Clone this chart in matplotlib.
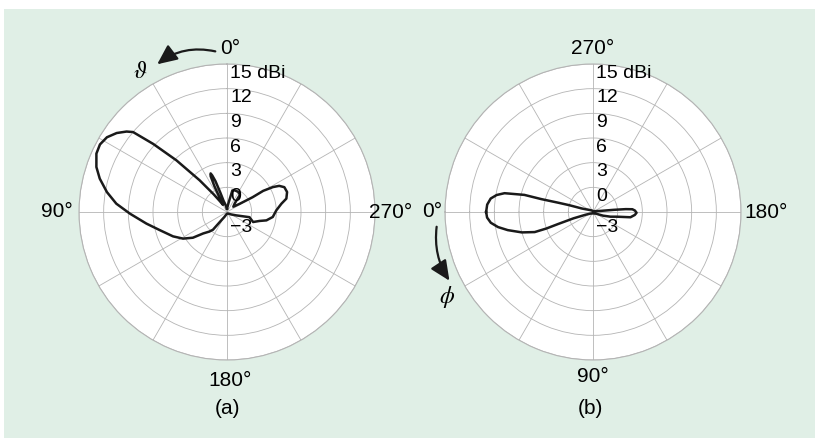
import numpy as np
import matplotlib.pyplot as plt
import matplotlib.transforms as mtransforms
from matplotlib.patches import Rectangle, FancyArrowPatch

plt.rcParams['font.family'] = ['Liberation Sans', 'DejaVu Sans']
plt.rcParams['mathtext.fontset'] = 'stix'

# (a) elevation cut, theta in deg, gain in dBi
theta_a = [0, 8, 13, 17, 19, 20.5, 22, 23, 24.5, 26, 27.5, 29, 31, 34, 37, 40.8, 44.4, 47.3,
           49.6, 51.3, 54.4, 58.1, 62, 65.9, 71, 75.3, 80.6, 85.7, 91, 98.2, 105.2, 114.3,
           121.2, 127, 132, 138, 141.6, 145.8, 152, 165, 185, 205, 225, 240, 250, 257, 249,
           254.6, 258, 263.8, 271.9, 278.7, 282.7, 288.4, 293.4, 296.6, 298.5, 300.3, 300,
           303, 310, 318, 323, 330, 340, 346, 350, 355, 360]
gain_a = [-2.6, -2.4, -2.0, -1.6, -0.5, 1.0, 1.8, 2.1, 1.8, 0.5, -1.2, -2.0, -1.8, -1.3,
          -0.3, 2.1, 5.8, 9.2, 12.0, 12.65, 13.5, 14.2, 14.5, 14.4, 13.8, 13.0, 11.8, 10.5,
          8.8, 6.9, 5.45, 4.2, 3.25, 2.2, 0.9, 0.2, -0.25, -1.8, -2.3, -2.7, -2.8, -2.8,
          -2.7, -2.4, -1.8, -0.2, 0.4, 1.1, 1.9, 2.6, 3.0, 3.7, 4.4, 4.7, 4.6, 4.1, 3.35,
          2.1, 0.6, -1.2, -2.0, -1.6, -0.4, -0.2, -0.2, -0.3, -1.8, -2.4, -2.6]

# (b) azimuth cut, phi in deg, gain in dBi
phi_b = [0, 3, 6, 9, 12, 16, 19, 19.5, 19, 18, 20, 30, 60, 90, 120, 150, 160, 165, 169,
         172, 176, 179, 182, 184, 185, 186, 188, 200, 240, 270, 300, 330, 340, 342.5, 344,
         345, 346, 346, 348, 350, 352.5, 356, 360]
gain_b = [10.0, 9.9, 9.5, 8.7, 7.6, 6.0, 4.5, 3.0, 1.5, -0.5, -2.0, -2.6, -2.8, -2.9, -2.8,
          -2.6, -1.7, -0.8, 0.0, 1.6, 2.1, 2.3, 2.1, 1.8, 1.0, -0.5, -2.0, -2.7, -2.9, -2.9,
          -2.8, -2.5, -2.0, -1.6, 0.0, 1.3, 3.5, 5.6, 8.0, 8.9, 9.55, 9.9, 10.0]

ring_vals = [0, 3, 6, 9, 12, 15]
ring_labels = ['0', '3', '6', '9', '12', '15 dBi']

W, H = 815, 438
fig = plt.figure(figsize=(8.15, 4.38), dpi=100)
fig.patch.set_facecolor('white')
fig.add_artist(Rectangle((4 / W, 0), 1 - 4 / W, 1 - 9 / H, transform=fig.transFigure,
                         facecolor='#e0efe6', edgecolor='none', zorder=-10))

R = 148
def polar_ax(cx, cy):
    ax = fig.add_axes([(cx - R) / W, (H - cy - R) / H, 2 * R / W, 2 * R / H],
                      projection='polar')
    ax.set_facecolor('white')
    ax.set_ylim(-3, 15)
    ax.set_yticks(ring_vals)
    ax.set_yticklabels([])
    ax.set_xticks(np.deg2rad(np.arange(0, 360, 30)))
    ax.set_xticklabels([])
    ax.grid(True, color='#b4b4b4', lw=0.6)
    ax.spines['polar'].set_color('#b4b4b4')
    ax.spines['polar'].set_linewidth(0.8)
    ax.tick_params(length=0)
    return ax

def off(ax, dx, dy):
    return mtransforms.offset_copy(ax.transData, fig=fig, x=dx, y=dy, units='dots')

def rlabels(ax, top):
    for v, s in zip(ring_vals, ring_labels):
        ax.text(np.deg2rad(top), v, s, transform=off(ax, 3, -9), ha='left', va='center',
                fontsize=14)
    ax.text(np.deg2rad(top), -3, '\u22123', transform=off(ax, 3, -15), ha='left',
            va='center', fontsize=14)

# (a)
ax1 = polar_ax(227, 212)
ax1.set_theta_zero_location('N')
ax1.set_theta_direction(1)
ax1.plot(np.deg2rad(theta_a), gain_a, color='#1a1a1a', lw=1.8)
rlabels(ax1, 0)
for ang, s, dx, dy in [(0, '0\u00b0', 3, 16), (90, '90\u00b0', -22, 0),
                       (180, '180\u00b0', 3, -20), (270, '270\u00b0', 16, 0)]:
    ax1.text(np.deg2rad(ang), 15, s, transform=off(ax1, dx, dy), ha='center', va='center',
             fontsize=15)

# (b)
ax2 = polar_ax(593, 212)
ax2.set_theta_zero_location('W')
ax2.set_theta_direction(1)
ax2.plot(np.deg2rad(phi_b), gain_b, color='#1a1a1a', lw=1.8)
rlabels(ax2, 270)
for ang, s, dx, dy in [(270, '270\u00b0', 0, 16), (0, '0\u00b0', -13, 0),
                       (90, '90\u00b0', 0, -17), (180, '180\u00b0', 25, 0)]:
    ax2.text(np.deg2rad(ang), 15, s, transform=off(ax2, dx, dy), ha='center', va='center',
             fontsize=15)

def fx(x, y):
    return (x / W, 1 - y / H)

# direction arrows
fig.add_artist(FancyArrowPatch(fx(218, 52), fx(155, 66), transform=fig.transFigure,
                               connectionstyle='arc3,rad=0.25',
                               arrowstyle='-|>,head_length=0.55,head_width=0.25',
                               mutation_scale=22, color='#1a1a1a', lw=1.6))
fig.add_artist(FancyArrowPatch(fx(437, 224), fx(451, 283), transform=fig.transFigure,
                               connectionstyle='arc3,rad=0.2',
                               arrowstyle='-|>,head_length=0.55,head_width=0.25',
                               mutation_scale=22, color='#1a1a1a', lw=1.6))
fig.text(*fx(140, 72), r'$\vartheta$', ha='center', va='center', fontsize=17)
fig.text(*fx(447, 297), r'$\phi$', ha='center', va='center', fontsize=17)

fig.text(*fx(228, 408), '(a)', ha='center', va='center', fontsize=15)
fig.text(*fx(590, 408), '(b)', ha='center', va='center', fontsize=15)

fig.savefig('out.png', dpi=100)
